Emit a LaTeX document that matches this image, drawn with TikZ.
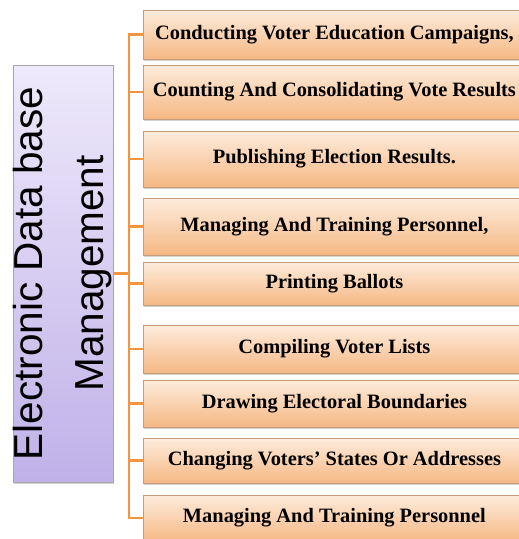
\documentclass[tikz,border=0pt]{standalone}
\usepackage{fontspec}
\setmainfont{Liberation Serif}
\newfontfamily\arialfont{Liberation Sans}
\usepackage{tikz}
\usetikzlibrary{positioning,shadows}

\definecolor{dbtop}{RGB}{238,233,251}
\definecolor{dbbottom}{RGB}{192,177,232}
\definecolor{tasktop}{RGB}{253,236,220}
\definecolor{taskbottom}{RGB}{246,184,132}
\definecolor{taskborder}{RGB}{196,156,124}
\definecolor{branchcol}{RGB}{243,148,62}

\begin{document}
\begin{tikzpicture}[x=1pt,y=-1pt,
	task/.style={rectangle,draw=taskborder,line width=0.8pt,top color=tasktop,bottom color=taskbottom,
		minimum width=382pt,inner sep=0pt,anchor=west,font=\fontsize{20.4}{23}\selectfont\bfseries,
		drop shadow={opacity=0.35,shadow xshift=0.5pt,shadow yshift=-2pt}},
	dbbox/.style={rectangle,draw=gray!70,line width=0.8pt,top color=dbtop,bottom color=dbbottom,
		rotate=90,minimum width=417pt,minimum height=100pt,inner sep=0pt,align=center,
		font=\arialfont\fontsize{40.5}{61}\selectfont,
		drop shadow={opacity=0.35,shadow xshift=1pt,shadow yshift=-2pt}},
	branch/.style={draw=branchcol,line width=2.6pt}]
	\useasboundingbox (0,0) rectangle (519,539);

	\node[dbbox] (db) at (63,273.5) {Electronic Data base\\Management};

	\node[task,minimum height=49pt] (t1) at (143,34.5) {Conducting Voter Education Campaigns,};
	\node[task,minimum height=54pt] (t2) at (143,92) {Counting And Consolidating Vote Results};
	\node[task,minimum height=56pt] (t3) at (143,159) {Publishing Election Results.};
	\node[task,minimum height=57pt] (t4) at (143,226.5) {Managing And Training Personnel,};
	\node[task,minimum height=43pt] (t5) at (143,283.5) {Printing Ballots};
	\node[task,minimum height=48pt] (t6) at (143,349) {Compiling Voter Lists};
	\node[task,minimum height=47pt] (t7) at (143,403.5) {Drawing Electoral Boundaries};
	\node[task,minimum height=45pt] (t8) at (143,460.5) {Changing Voters’ States Or Addresses};
	\node[task,minimum height=46pt] (t9) at (143,518) {Managing And Training Personnel};

	\path[branch]
		(t1.west) -- ++(-14,0) |- (t9.west)
		(t2.west) -- ++(-14,0)
		(t3.west) -- ++(-14,0)
		(t4.west) -- ++(-14,0)
		(t5.west) -- ++(-14,0)
		(t6.west) -- ++(-14,0)
		(t7.west) -- ++(-14,0)
		(t8.west) -- ++(-14,0)
		(db.south) -- ([xshift=-14pt]db.south -| t1.west);
\end{tikzpicture}
\end{document}
